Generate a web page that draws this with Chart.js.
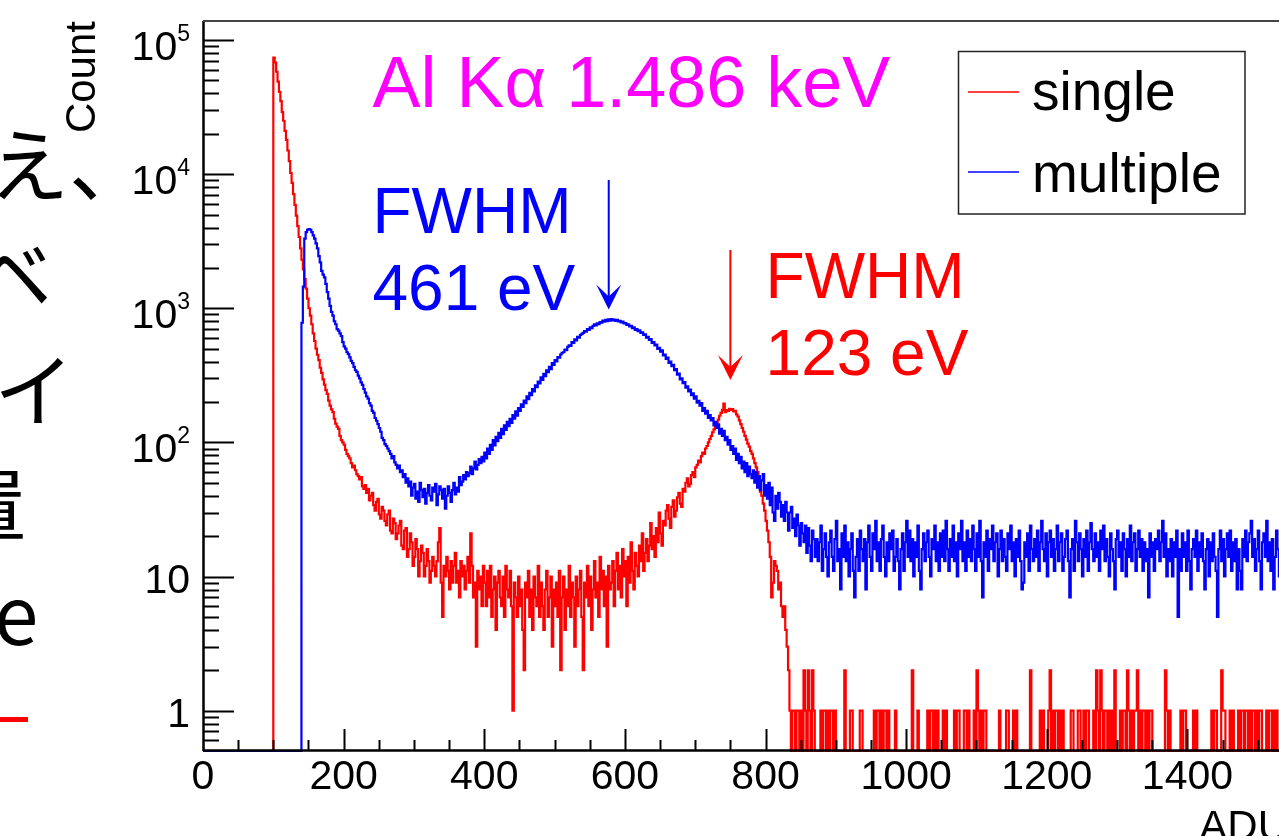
<!DOCTYPE html>
<html>
<head>
<meta charset="utf-8">
<script src="https://cdn.jsdelivr.net/npm/chart.js@4.4.1/dist/chart.umd.min.js"></script>
<style>
  html, body { margin: 0; padding: 0; background: #fff; overflow: hidden; width: 1279px; height: 836px; }
  canvas { display: block; }
</style>
</head>
<body>
<canvas id="spectrum" width="1300" height="836"></canvas>
<script>
// ADU histogram, 2 ADU per bin, first bin starts at 0
const BIN_WIDTH = 2;

const singleCounts = [
  // 0 - 98
  0, 0, 0, 0, 0, 0, 0, 0, 0, 0, 0, 0, 0, 0, 0, 0, 0, 0, 0, 0, 0, 0, 0, 0, 0,
  0, 0, 0, 0, 0, 0, 0, 0, 0, 0, 0, 0, 0, 0, 0, 0, 0, 0, 0, 0, 0, 0, 0, 0, 0,
  // 100 -
  74000, 68000, 58000, 49000, 41000, 35000, 29000, 25000, 21000, 18000,
  15000, 12500, 10200, 8600, 7100, 5900, 4900, 4100, 3400, 2800,
  2300, 1950, 1650, 1400, 1180, 1000, 880, 760, 650, 570,
  500, 450, 410, 360, 330, 295, 270, 245, 230, 205,
  188, 176, 168, 150, 138, 131, 126, 112, 104, 100,
  96, 88, 82, 79, 76, 70, 65, 67, 62, 58,
  56, 53, 55, 47, 45, 48, 42, 45, 37, 40,
  42, 34, 31, 36, 38, 29, 27, 33, 31, 26,
  24, 29, 31, 22, 21, 27, 25, 19, 21, 24,
  26, 17, 16, 22, 23, 14, 16, 21, 18, 12,
  // 300 -
  14, 19, 16, 10, 13, 17, 15, 10, 12, 16,
  13, 9, 11, 14, 12, 10, 13, 18, 23, 9,
  5, 12, 10, 14, 11, 8, 13, 9, 12, 15,
  9, 11, 7, 13, 10, 12, 8, 11, 14, 9,
  21, 12, 7, 9, 3, 11, 8, 10, 6, 12,
  9, 6, 11, 7, 12, 5, 8, 10, 4, 9,
  11, 7, 6, 10, 5, 12, 8, 7, 11, 6,
  1, 9, 7, 5, 10, 6, 8, 4, 2, 9,
  7, 11, 5, 8, 4, 10, 7, 6, 12, 5,
  9, 6, 4, 8, 11, 5, 7, 10, 3, 8,
  // 500 -
  6, 9, 5, 11, 2, 7, 10, 4, 8, 6,
  12, 5, 9, 7, 3, 10, 6, 8, 11, 5,
  2, 9, 7, 12, 6, 10, 4, 8, 13, 7,
  9, 5, 14, 8, 11, 6, 10, 3, 12, 8,
  9, 13, 6, 11, 15, 8, 12, 7, 16, 10,
  13, 6, 14, 9, 18, 11, 8, 15, 12, 10,
  17, 13, 21, 11, 15, 19, 13, 17, 25, 16,
  20, 14, 23, 18, 30, 21, 17, 26, 24, 31,
  34, 27, 23, 33, 37, 28, 31, 39, 42, 35,
  33, 45, 43, 50, 54, 47, 49, 57, 60, 55,
  // 700 -
  65, 68, 73, 71, 79, 84, 82, 90, 94, 100,
  106, 112, 119, 125, 133, 140, 148, 158, 166, 175,
  195, 168, 174, 172, 178, 175, 177, 170, 172, 162,
  156, 146, 137, 128, 120, 112, 105, 98, 93, 86,
  82, 76, 70, 65, 60, 52, 43, 40, 35, 31,
  26, 22, 18, 14, 7, 9, 13, 12, 11, 8,
  9, 6, 5, 6, 4, 3, 2, 1, 0, 1,
  // 840 -
  1, 0, 1, 1, 0, 1, 0, 2, 1, 0,
  2, 1, 0, 2, 1, 0, 0, 0, 0, 1,
  0, 1, 1, 0, 1, 0, 1, 1, 0, 1,
  0, 0, 0, 0, 0, 0, 2, 0, 0, 0,
  1, 1, 0, 0, 0, 0, 0, 1, 1, 0,
  0, 0, 0, 0, 0, 0, 0, 1, 0, 1,
  1, 0, 1, 0, 1, 1, 0, 1, 0, 0,
  0, 0, 1, 0, 0, 0, 0, 0, 0, 0,
  // 1000 -
  0, 0, 0, 0, 2, 0, 0, 0, 1, 0,
  0, 0, 0, 0, 0, 1, 0, 1, 1, 0,
  1, 0, 1, 0, 0, 0, 1, 0, 1, 0,
  0, 0, 0, 0, 1, 0, 1, 1, 0, 0,
  0, 1, 1, 0, 1, 0, 0, 0, 1, 0,
  2, 1, 0, 1, 0, 1, 1, 0, 0, 0,
  0, 0, 0, 0, 0, 0, 1, 0, 0, 0,
  0, 1, 1, 0, 0, 0, 1, 0, 1, 0,
  0, 0, 0, 0, 0, 0, 0, 0, 2, 0,
  0, 0, 0, 0, 0, 1, 0, 1, 0, 0,
  // 1200 -
  0, 1, 2, 0, 1, 0, 1, 1, 0, 1,
  0, 1, 0, 0, 0, 0, 0, 1, 1, 0,
  0, 0, 1, 1, 0, 0, 1, 0, 1, 1,
  0, 0, 0, 1, 0, 2, 1, 0, 2, 1,
  0, 1, 1, 0, 1, 0, 1, 0, 2, 0,
  0, 0, 1, 0, 1, 1, 0, 2, 1, 0,
  1, 0, 1, 1, 2, 0, 1, 0, 1, 1,
  0, 1, 0, 1, 1, 0, 0, 0, 0, 0,
  0, 0, 0, 0, 2, 1, 0, 1, 0, 0,
  0, 0, 0, 0, 0, 1, 0, 1, 1, 0,
  // 1400 -
  0, 0, 0, 0, 1, 0, 1, 0, 0, 0,
  0, 0, 0, 0, 0, 0, 0, 1, 0, 1,
  1, 0, 0, 0, 2, 1, 1, 0, 0, 0,
  1, 0, 1, 0, 0, 0, 1, 0, 1, 1,
  0, 1, 1, 0, 1, 0, 1, 1, 0, 1,
  0, 1, 1, 0, 0, 0, 1, 0, 1, 1,
  0, 1, 0, 1, 0, 0, 1, 0, 1, 0,
  1
];

const multipleCounts = [
  // 0 - 138
  0, 0, 0, 0, 0, 0, 0, 0, 0, 0, 0, 0, 0, 0, 0, 0, 0, 0, 0, 0, 0, 0, 0, 0, 0, 0, 0, 0, 0, 0, 0, 0, 0, 0, 0,
  0, 0, 0, 0, 0, 0, 0, 0, 0, 0, 0, 0, 0, 0, 0, 0, 0, 0, 0, 0, 0, 0, 0, 0, 0, 0, 0, 0, 0, 0, 0, 0, 0, 0, 0,
  // 140 -
  780, 1450, 3300, 3700, 3850, 3900, 3850, 3700, 3500, 3300,
  3050, 2800, 2450, 2200, 1900, 1780, 1700, 1520, 1320, 1180,
  1040, 940, 880, 800, 760, 700, 680, 650, 620, 560,
  520, 500, 470, 455, 430, 405, 390, 365, 345, 335,
  315, 300, 280, 268, 250, 235, 220, 212, 196, 188,
  172, 166, 152, 145, 137, 128, 120, 108, 104, 97,
  94, 90, 86, 82, 76, 79, 71, 68, 64, 67,
  60, 62, 55, 58, 50, 54, 47, 51, 40, 46,
  // 300 -
  49, 38, 43, 36, 50, 44, 39, 45, 35, 42,
  48, 40, 37, 46, 43, 49, 34, 41, 47, 44,
  38, 45, 32, 40, 47, 42, 36, 44, 50, 41,
  46, 43, 55, 48, 51, 57, 53, 60, 56, 59,
  66, 58, 64, 72, 63, 68, 75, 70, 78, 72,
  84, 76, 90, 82, 96, 88, 104, 95, 110, 102,
  118, 108, 126, 115, 134, 124, 142, 132, 150, 140,
  160, 150, 170, 158, 180, 172, 192, 184, 205, 196,
  220, 210, 234, 225, 250, 240, 266, 258, 284, 275,
  305, 292, 325, 312, 345, 334, 366, 352, 390, 378,
  // 500 -
  410, 402, 432, 428, 452, 466, 470, 492, 488, 515,
  530, 524, 560, 552, 586, 575, 612, 604, 632, 645,
  655, 676, 668, 700, 690, 722, 712, 738, 760, 745,
  772, 762, 790, 780, 808, 796, 818, 800, 826, 810,
  830, 812, 822, 805, 818, 798, 806, 786, 796, 770,
  776, 752, 760, 732, 738, 712, 720, 690, 698, 675,
  684, 655, 660, 632, 640, 605, 612, 580, 588, 552,
  560, 528, 535, 498, 506, 475, 485, 445, 452, 420,
  428, 392, 400, 370, 378, 345, 352, 320, 326, 295,
  300, 276, 282, 256, 262, 240, 248, 225, 232, 212,
  // 700 -
  220, 198, 204, 188, 196, 172, 180, 164, 172, 152,
  160, 146, 152, 134, 142, 128, 136, 116, 126, 112,
  122, 104, 110, 96, 104, 88, 94, 82, 90, 74,
  82, 70, 78, 64, 72, 60, 70, 56, 66, 58,
  54, 62, 50, 60, 46, 56, 44, 52, 58, 40,
  48, 38, 50, 34, 46, 30, 26, 40, 32, 42,
  36, 28, 34, 26, 36, 30, 22, 30, 33, 23,
  27, 20, 29, 24, 17, 25, 21, 18, 24, 15,
  23, 17, 13, 22, 19, 14,
  // 872 -
  19, 13, 18, 24, 11, 16, 21, 14, 10, 18,
  22, 14, 11, 19, 26, 13, 16, 8, 21, 14,
  24, 13, 18, 10, 16, 21, 11, 7, 14, 19,
  11, 22, 16, 13, 19, 8, 18, 24, 14, 11,
  21, 16, 26, 13, 18, 11, 19, 24, 14, 10,
  18, 13, 21, 16, 22, 11, 14, 19, 13, 8,
  16, 21, 11, 18, 26, 14, 22, 13, 19, 10,
  18, 14, 24, 11, 8, 16, 21, 13, 18, 22,
  14, 10, 19, 16, 24, 13, 18, 11, 21, 14,
  22, 13, 26, 16, 11, 19, 14, 24, 13, 18,
  10, 21, 16, 26, 13, 18, 11, 22, 14, 19,
  13, 24, 16, 11, 21, 14, 26, 13, 7, 18,
  14, 22, 11, 19, 16, 24, 13, 18, 21, 10,
  16, 22, 13, 19, 14, 11, 21, 16, 24, 13,
  18, 10, 19, 14, 22, 13, 8, 9, 18, 14,
  21, 11, 24, 16, 13, 19, 14, 22, 11, 18,
  26, 16, 13, 21, 10, 18, 22, 14, 19, 11,
  16, 24, 13, 18, 21, 11, 14, 19, 22, 13,
  7, 16, 19, 11, 26, 18, 13, 21, 16, 10,
  19, 14, 22, 11, 18, 25, 16, 13, 21, 14,
  18, 11, 22, 16, 24, 13, 19, 14, 10, 21,
  16, 13, 8, 19, 22, 14, 18, 11, 21, 16,
  10, 19, 14, 24, 13, 18, 21, 11, 16, 22,
  14, 19, 11, 18, 13, 16, 7, 21, 14, 18,
  11, 19, 16, 22, 13, 18, 26, 14, 21, 10,
  16, 13, 19, 10, 18, 14, 22, 5, 16, 11,
  21, 14, 18, 11, 22, 13, 8, 16, 19, 14,
  22, 11, 18, 14, 21, 13, 8, 16, 19, 10,
  18, 13, 21, 14, 11, 5, 16, 22, 13, 19,
  10, 16, 21, 14, 22, 11, 18, 13, 19, 8,
  16, 11, 8, 19, 14, 22, 13, 18, 21, 26,
  14, 19, 11, 16, 22, 13, 8, 18, 21, 14,
  26, 13, 18, 11, 19, 8, 14, 22, 16, 10,
  19, 13, 16, 22, 11
];

const X_MIN = 0;
const X_MAX = 1543;
const Y_MIN = 0.5;
const Y_MAX = 138600;
const X_TICK_VALUES = [0, 200, 400, 600, 800, 1000, 1200, 1400];
const Y_TICK_VALUES = [1, 10, 100, 1000, 10000, 100000];
const Y_TICK_BASES = ['1', '10', '10', '10', '10', '10'];
const Y_TICK_EXPONENTS = ['', '', '2', '3', '4', '5'];

const FONT = '"Liberation Sans", Arial, Helvetica, sans-serif';
const JP_FONT = '"Noto Sans CJK JP", "Noto Sans", sans-serif';

// step-histogram points: value of bin i spans [i*w, (i+1)*w]; empty bins sit on the axis floor
function histPoints(counts) {
  const pts = counts.map((c, i) => ({ x: i * BIN_WIDTH, y: c > 0 ? c : Y_MIN }));
  pts.push({ x: counts.length * BIN_WIDTH, y: pts[pts.length - 1].y });
  return pts;
}

// ROOT-like frame with inward ticks and 10^n labels
const rootFrame = {
  id: 'rootFrame',
  afterDatasetsDraw(chart) {
    const { ctx, chartArea: a, scales: { x, y } } = chart;
    ctx.save();
    ctx.strokeStyle = '#000';
    ctx.lineWidth = 2;
    ctx.beginPath();
    for (let e = -1; e <= 5; e++) {
      for (let m = 1; m <= 9; m++) {
        const v = m * Math.pow(10, e);
        if (v <= Y_MIN || v >= Y_MAX) continue;
        const py = Math.round(y.getPixelForValue(v)) + 0.5;
        ctx.moveTo(a.left, py);
        ctx.lineTo(a.left + (m === 1 ? 31 : 16), py);
      }
    }
    for (let v = 50; v < X_MAX; v += 50) {
      const px = Math.round(x.getPixelForValue(v)) + 0.5;
      ctx.moveTo(px, a.bottom);
      ctx.lineTo(px, a.bottom - (v % 200 === 0 ? 22 : 11));
    }
    ctx.stroke();

    ctx.lineWidth = 2.5;
    ctx.beginPath();
    ctx.moveTo(a.left, a.bottom - 0.5);
    ctx.lineTo(a.right, a.bottom - 0.5);
    ctx.moveTo(a.left + 0.5, a.bottom);
    ctx.lineTo(a.left + 0.5, a.top);
    ctx.stroke();
    ctx.strokeStyle = '#444';
    ctx.lineWidth = 2;
    ctx.beginPath();
    ctx.moveTo(a.left, a.top);
    ctx.lineTo(a.right, a.top);
    ctx.stroke();

    // y labels with raised exponents
    ctx.fillStyle = '#000';
    ctx.textAlign = 'right';
    ctx.textBaseline = 'alphabetic';
    const right = a.left - 13;
    Y_TICK_VALUES.forEach((v, i) => {
      const py = y.getPixelForValue(v);
      const exp = Y_TICK_EXPONENTS[i];
      let r = right;
      if (exp) {
        ctx.font = '23px ' + FONT;
        ctx.fillText(exp, r, py + 1);
        r -= ctx.measureText(exp).width;
        ctx.font = '41px ' + FONT;
        ctx.fillText(Y_TICK_BASES[i], r, py + 20);
      } else {
        ctx.font = '41px ' + FONT;
        ctx.fillText(Y_TICK_BASES[i], r, py + 16);
      }
    });
    ctx.restore();
  }
};

// text labels, arrows and boxed legend
const notes = {
  id: 'notes',
  afterDraw(chart) {
    const { ctx, chartArea: a, scales: { x, y } } = chart;
    ctx.save();
    ctx.textBaseline = 'alphabetic';
    ctx.textAlign = 'left';

    const text = (s, adu, cnt, color, size) => {
      ctx.fillStyle = color;
      ctx.font = size + 'px ' + FONT;
      ctx.fillText(s, x.getPixelForValue(adu), y.getPixelForValue(cnt));
    };
    text('Al Kα 1.486 keV', 241, 31700, '#ff00ff', 72);
    text('FWHM', 241, 3640, '#0000ff', 64);
    text('461 eV', 241, 971, '#0000ff', 64);
    text('FWHM', 800, 1193, '#ff0000', 64);
    text('123 eV', 800, 318, '#ff0000', 64);

    const arrow = (adu, from, to, color) => {
      const px = x.getPixelForValue(adu);
      const y0 = y.getPixelForValue(from);
      const y1 = y.getPixelForValue(to);
      ctx.strokeStyle = color;
      ctx.fillStyle = color;
      ctx.lineWidth = 2;
      ctx.beginPath();
      ctx.moveTo(px, y0);
      ctx.lineTo(px, y1 - 12);
      ctx.stroke();
      ctx.beginPath();
      ctx.moveTo(px, y1);
      ctx.lineTo(px - 12.5, y1 - 25);
      ctx.lineTo(px, y1 - 13);
      ctx.lineTo(px + 12.5, y1 - 25);
      ctx.closePath();
      ctx.fill();
    };
    arrow(577, 9045, 979, '#0000ff');
    arrow(750, 2719, 292, '#ff0000');

    // legend box
    ctx.strokeStyle = '#222';
    ctx.lineWidth = 1.5;
    ctx.strokeRect(958.5, 51.5, 286.5, 162.5);
    ctx.strokeStyle = '#ff0000';
    ctx.beginPath(); ctx.moveTo(968, 92); ctx.lineTo(1019, 92); ctx.stroke();
    ctx.strokeStyle = '#0000ff';
    ctx.beginPath(); ctx.moveTo(968, 172); ctx.lineTo(1019, 172); ctx.stroke();
    ctx.fillStyle = '#000';
    ctx.font = '55px ' + FONT;
    ctx.fillText('single', 1032, 110);
    ctx.fillText('multiple', 1032, 192);

    // axis titles
    ctx.font = '42px ' + FONT;
    ctx.textAlign = 'right';
    ctx.fillText('ADU', a.right, 840);
    ctx.save();
    ctx.translate(95, a.top);
    ctx.rotate(-Math.PI / 2);
    ctx.fillText('Count', 0, 0);
    ctx.restore();

    // clipped slide text at the left edge
    ctx.textAlign = 'left';
    ctx.font = '80px ' + JP_FONT;
    ctx.fillText('え、', -11, 195);
    ctx.fillText('ベ', -28, 305);
    ctx.fillText('イ', -6, 420);
    ctx.fillText('置', -54, 535);
    ctx.fillText('e', -6, 645);
    ctx.fillStyle = '#ff0000';
    ctx.fillRect(0, 717, 28, 5);
    ctx.restore();
  }
};

new Chart(document.getElementById('spectrum'), {
  type: 'line',
  data: {
    datasets: [
      {
        label: 'single',
        data: histPoints(singleCounts),
        borderColor: '#ff0000',
        borderWidth: 2.2,
        stepped: 'before',
        pointRadius: 0,
        fill: false,
        clip: false,
        order: 1
      },
      {
        label: 'multiple',
        data: histPoints(multipleCounts),
        borderColor: '#0000ff',
        borderWidth: 2.2,
        stepped: 'before',
        pointRadius: 0,
        fill: false,
        clip: false,
        order: 0
      }
    ]
  },
  options: {
    responsive: false,
    animation: false,
    devicePixelRatio: 1,
    layout: { padding: { top: 21, right: 12, bottom: 0, left: 0 } },
    plugins: { legend: { display: false }, tooltip: { enabled: false } },
    scales: {
      x: {
        type: 'linear',
        min: X_MIN,
        max: X_MAX,
        grid: { display: false, drawTicks: false },
        border: { display: false },
        afterBuildTicks: s => { s.ticks = X_TICK_VALUES.map(v => ({ value: v })); },
        afterFit: s => { s.height = 85; s.paddingLeft = 0; s.paddingRight = 0; },
        ticks: {
          autoSkip: false,
          maxRotation: 0,
          padding: 2,
          color: '#000',
          font: { family: FONT, size: 41 },
          callback: v => String(v)
        }
      },
      y: {
        type: 'logarithmic',
        min: Y_MIN,
        max: Y_MAX,
        grid: { display: false, drawTicks: false },
        border: { display: false },
        afterBuildTicks: s => { s.ticks = Y_TICK_VALUES.map(v => ({ value: v })); },
        afterFit: s => { s.width = 203; s.paddingTop = 0; s.paddingBottom = 0; },
        ticks: { display: false }
      }
    }
  },
  plugins: [rootFrame, notes]
});
</script>
</body>
</html>
